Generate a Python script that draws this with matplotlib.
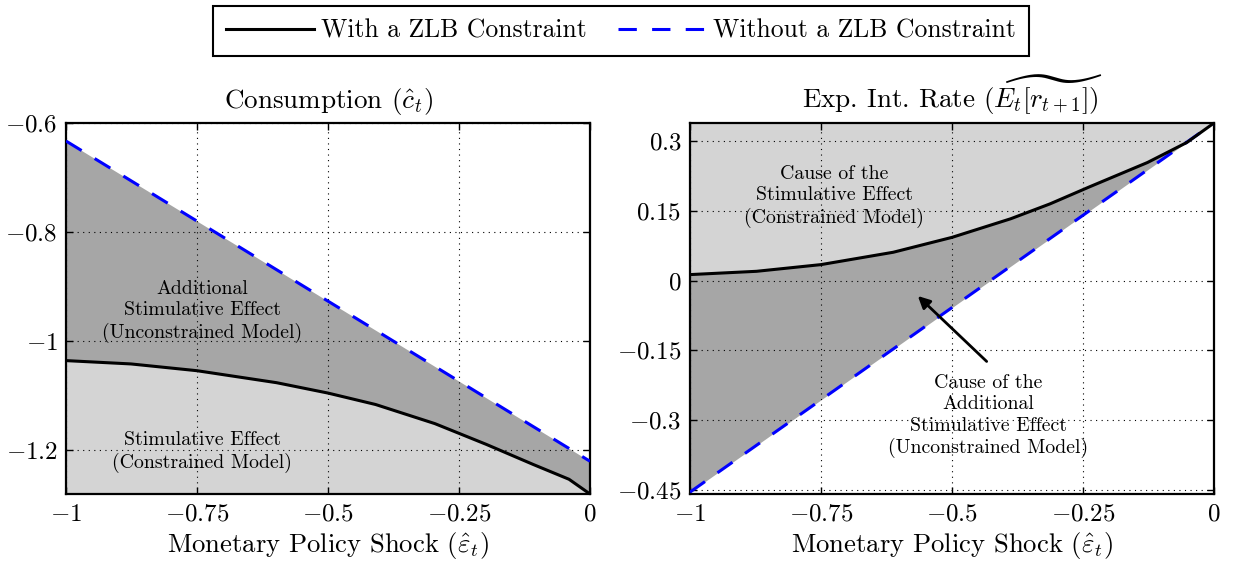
import matplotlib
matplotlib.use("Agg")
import matplotlib.pyplot as plt
import numpy as np

plt.rcParams["font.family"] = "cmr10"
plt.rcParams["mathtext.fontset"] = "cm"
plt.rcParams["axes.unicode_minus"] = False
plt.rcParams["axes.formatter.use_mathtext"] = True

# ---- data ----
shock = [-1.0, -0.876, -0.75, -0.598, -0.5, -0.409, -0.296, -0.198, -0.108, -0.04, 0.0]
cons_zlb = [-1.0355, -1.0416, -1.054, -1.076, -1.095, -1.116, -1.151, -1.189, -1.226, -1.253, -1.28]
cons_nozlb_x = [-1.0, 0.0]
cons_nozlb = [-0.633, -1.22]

rate_x = [-1.0, -0.873, -0.75, -0.612, -0.5, -0.388, -0.313, -0.239, -0.127, -0.052, 0.0]
rate_zlb = [0.0129, 0.020, 0.0344, 0.061, 0.093, 0.133, 0.165, 0.201, 0.254, 0.297, 0.339]
rate_nozlb_x = [-1.0, 0.0]
rate_nozlb = [-0.455, 0.339]

x_ticks = [-1, -0.75, -0.5, -0.25, 0]
x_ticklabels = [r"$-1$", r"$-0.75$", r"$-0.5$", r"$-0.25$", r"$0$"]
cons_yticks = [-1.2, -1.0, -0.8, -0.6]
cons_yticklabels = [r"$-1.2$", r"$-1$", r"$-0.8$", r"$-0.6$"]
rate_yticks = [-0.45, -0.3, -0.15, 0, 0.15, 0.3]
rate_yticklabels = [r"$-0.45$", r"$-0.3$", r"$-0.15$", r"$0$", r"$0.15$", r"$0.3$"]

LIGHT = "#d4d4d4"
DARK = "#a6a6a6"
BLUE = "#0000ff"
NOTE_SIZE = 14.3

fig = plt.figure(figsize=(12.33, 5.66), dpi=100)
ax1 = fig.add_axes([0.0535, 0.1272, 0.425, 0.6555])
ax2 = fig.add_axes([0.5596, 0.1272, 0.425, 0.6555])


def style_axis(ax, yticks, yticklabels):
    ax.set_xlim(-1, 0)
    ax.set_xticks(x_ticks)
    ax.set_xticklabels(x_ticklabels, fontsize=18)
    ax.set_yticks(yticks)
    ax.set_yticklabels(yticklabels, fontsize=18)
    ax.tick_params(direction="in", top=True, right=True, length=5, width=1)
    ax.tick_params(axis="y", pad=6)
    ax.tick_params(axis="x", pad=7)
    ax.grid(True, linestyle=(0, (1, 4)), color="black", linewidth=0.8)
    ax.set_axisbelow(False)
    for s in ax.spines.values():
        s.set_linewidth(1.6)
    ax.set_xlabel(r"Monetary Policy Shock ($\hat{\varepsilon}_t$)", fontsize=19.2, labelpad=3)


# ---- left: consumption ----
ylo, yhi = -1.28, -0.6
nozlb_on_grid = np.interp(shock, cons_nozlb_x, cons_nozlb)
ax1.fill_between(shock, ylo, cons_zlb, color=LIGHT, lw=0, zorder=0)
ax1.fill_between(shock, cons_zlb, nozlb_on_grid, color=DARK, lw=0, zorder=0)
ax1.plot(shock, cons_zlb, color="black", lw=2.2, zorder=3)
ax1.plot(cons_nozlb_x, cons_nozlb, color=BLUE, lw=2.2, dashes=(6, 5), zorder=3)
ax1.set_ylim(ylo, yhi)
style_axis(ax1, cons_yticks, cons_yticklabels)
ax1.set_title(r"Consumption ($\hat{c}_t$)", fontsize=19.5, pad=11)
ax1.text(-0.74, -0.945, "Additional\nStimulative Effect\n(Unconstrained Model)",
         ha="center", va="center", fontsize=NOTE_SIZE, linespacing=1.24, zorder=4)
ax1.text(-0.74, -1.203, "Stimulative Effect\n(Constrained Model)",
         ha="center", va="center", fontsize=NOTE_SIZE, linespacing=1.24, zorder=4)

# ---- right: expected interest rate ----
rlo, rhi = -0.459, 0.339
rnozlb_on_grid = np.interp(rate_x, rate_nozlb_x, rate_nozlb)
ax2.fill_between(rate_x, rate_zlb, rhi, color=LIGHT, lw=0, zorder=0)
ax2.fill_between(rate_x, rnozlb_on_grid, rate_zlb, color=DARK, lw=0, zorder=0)
ax2.plot(rate_nozlb_x, rate_nozlb, color=BLUE, lw=2.2, dashes=(6, 5), zorder=3)
ax2.plot(rate_x, rate_zlb, color="black", lw=2.2, zorder=3)
ax2.set_ylim(rlo, rhi)
style_axis(ax2, rate_yticks, rate_yticklabels)
ax2.set_title(r"Exp. Int. Rate ($\widetilde{E_t[r_{t+1}]}$)", fontsize=19.5, pad=11)
ax2.text(-0.725, 0.181, "Cause of the\nStimulative Effect\n(Constrained Model)",
         ha="center", va="center", fontsize=NOTE_SIZE, linespacing=1.24, zorder=4)
ax2.text(-0.431, -0.292, "Cause of the\nAdditional\nStimulative Effect\n(Unconstrained Model)",
         ha="center", va="center", fontsize=NOTE_SIZE, linespacing=1.24, zorder=4)
ax2.annotate("", xy=(-0.569, -0.029), xytext=(-0.430, -0.178),
             arrowprops=dict(arrowstyle="-|>", color="black", lw=2,
                             mutation_scale=18), zorder=4)

# ---- legend ----
h1, = ax1.plot([], [], color="black", lw=2.2, label="With a ZLB Constraint")
h2, = ax1.plot([], [], color=BLUE, lw=2.2, dashes=(6, 5), label="Without a ZLB Constraint")
leg = fig.legend(handles=[h1, h2], loc="center", bbox_to_anchor=(0.5036, 0.945),
                 ncol=2, fontsize=18.5, fancybox=False, edgecolor="black",
                 handlelength=3.4, columnspacing=1.2, handletextpad=0.3,
                 borderpad=0.5, framealpha=1)
leg.get_frame().set_linewidth(1.5)

fig.savefig("out.png", dpi=100)
